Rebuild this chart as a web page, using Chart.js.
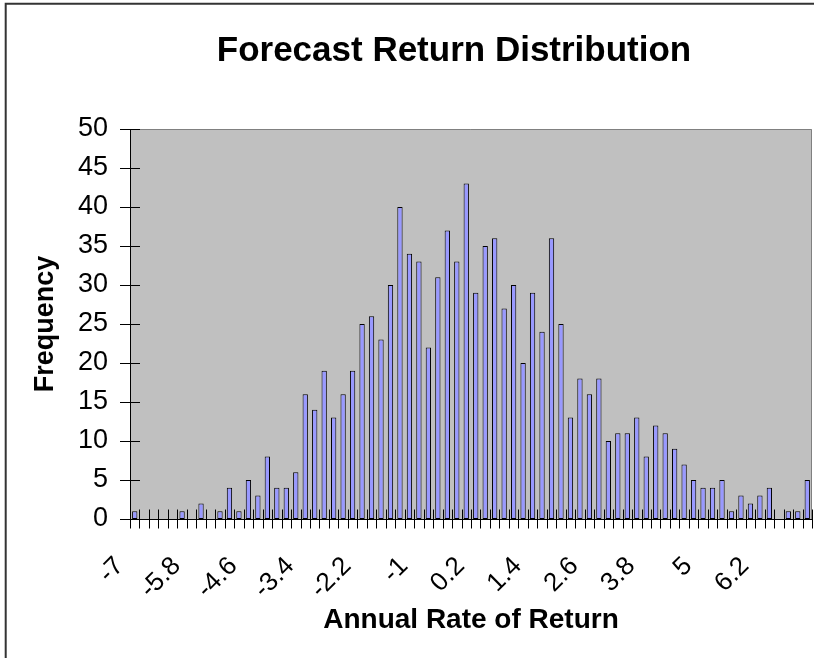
<!DOCTYPE html>
<html><head><meta charset="utf-8">
<script src="https://cdn.jsdelivr.net/npm/chart.js@4/dist/chart.umd.min.js"></script>
<style>html,body{margin:0;padding:0;background:#fff;}canvas{display:block;}</style>
</head><body>
<canvas id="c" width="814" height="658"></canvas>
<script>
const categories = ["-7","-6.8","-6.6","-6.4","-6.2","-6","-5.8","-5.6","-5.4","-5.2","-5","-4.8","-4.6","-4.4","-4.2","-4","-3.8","-3.6","-3.4","-3.2","-3","-2.8","-2.6","-2.4","-2.2","-2","-1.8","-1.6","-1.4","-1.2","-1","-0.8","-0.6","-0.4","-0.2","0","0.2","0.4","0.6","0.8","1","1.2","1.4","1.6","1.8","2","2.2","2.4","2.6","2.8","3","3.2","3.4","3.6","3.8","4","4.2","4.4","4.6","4.8","5","5.2","5.4","5.6","5.8","6","6.2","6.4","6.6","6.8","7","7.2"];
const frequencies = [1,0,0,0,0,1,0,2,0,1,4,1,5,3,8,4,4,6,16,14,19,13,16,19,25,26,23,30,40,34,33,22,31,37,33,43,29,35,36,27,30,20,29,24,36,25,13,18,16,18,10,11,11,13,8,12,11,9,7,5,4,4,5,1,3,2,3,4,0,1,1,5];
const tickLabels = ["-7","-5.8","-4.6","-3.4","-2.2","-1","0.2","1.4","2.6","3.8","5","6.2"];
const yTickValues = [0,5,10,15,20,25,30,35,40,45,50];

const titleText = "Forecast Return Distribution";
const xTitleText = "Annual Rate of Return";
const yTitleText = "Frequency";
const FONT = "'Liberation Sans', Arial, Helvetica, sans-serif";

const backdrop = {
  id: 'backdrop',
  beforeDraw(chart) {
    const {ctx, chartArea: a} = chart;
    ctx.save();
    ctx.fillStyle = '#ffffff';
    ctx.fillRect(0, 0, chart.width, chart.height);
    ctx.strokeStyle = '#333333';
    ctx.lineWidth = 2;
    ctx.beginPath();
    ctx.moveTo(5.7, chart.height + 2);
    ctx.lineTo(5.7, 3.7);
    ctx.lineTo(chart.width + 2, 3.7);
    ctx.stroke();
    ctx.fillStyle = '#c0c0c0';
    ctx.fillRect(a.left, a.top, a.right - a.left, a.bottom - a.top);
    ctx.strokeStyle = '#808080';
    ctx.lineWidth = 1;
    ctx.beginPath();
    ctx.moveTo(a.left, a.top + 0.5);
    ctx.lineTo(a.right - 0.5, a.top + 0.5);
    ctx.lineTo(a.right - 0.5, a.bottom);
    ctx.stroke();
    ctx.restore();
  }
};

const titleShift = {
  id: 'titleShift',
  afterLayout(chart) {
    const t = chart.titleBlock;
    if (t) { t.left = 2 * 454 - t.right; }
  }
};

const crossTicks = {
  id: 'crossTicks',
  afterDatasetsDraw(chart) {
    const {ctx} = chart;
    const xs = chart.scales.x, ys = chart.scales.y;
    ctx.save();
    ctx.strokeStyle = '#000';
    ctx.lineWidth = 1;
    ctx.beginPath();
    ys.ticks.forEach(t => {
      const py = Math.round(ys.getPixelForValue(t.value)) + 0.5;
      ctx.moveTo(xs.left - 10, py);
      ctx.lineTo(xs.left + 10, py);
    });
    for (let i = 0; i <= categories.length; i++) {
      const px = Math.round(xs.getPixelForValue(i - 0.5)) + 0.5;
      ctx.moveTo(px, ys.bottom - 9.5);
      ctx.lineTo(px, ys.bottom + 9.5);
    }
    ctx.stroke();
    ctx.restore();
  }
};

new Chart(document.getElementById('c'), {
  type: 'bar',
  data: {
    labels: categories,
    datasets: [{
      label: yTitleText,
      data: frequencies,
      backgroundColor: '#9999ff',
      borderColor: '#000000',
      borderWidth: 1,
      borderSkipped: false,
      barPercentage: 0.56,
      categoryPercentage: 1
    }]
  },
  options: {
    responsive: false,
    animation: false,
    layout: { padding: { left: 0, top: 0, right: 2, bottom: 0 } },
    plugins: {
      legend: { display: false },
      tooltip: { enabled: false },
      title: {
        display: true,
        text: titleText,
        color: '#000',
        font: { family: FONT, size: 35, weight: 'bold', lineHeight: 1.2 },
        padding: { top: 30, bottom: 57 }
      }
    },
    scales: {
      x: {
        type: 'category',
        offset: true,
        grid: { display: false, offset: true, drawTicks: false },
        border: { display: true, color: '#000', width: 1 },
        ticks: {
          autoSkip: false,
          minRotation: 45,
          maxRotation: 45,
          labelOffset: -15,
          padding: 32,
          color: '#000',
          font: { family: FONT, size: 26 },
          callback(v) {
            const l = this.getLabelForValue(v);
            return tickLabels.includes(l) ? l : '';
          }
        },
        title: {
          display: true,
          text: xTitleText,
          color: '#000',
          font: { family: FONT, size: 28, weight: 'bold', lineHeight: 1.2 },
          padding: { top: 0, bottom: 21 }
        },
        afterFit(s) { s.height = 139; s.paddingLeft = 0; s.paddingRight = 0; }
      },
      y: {
        min: 0,
        max: 50,
        afterBuildTicks(s) { s.ticks = yTickValues.map(v => ({ value: v })); },
        grid: { display: false, drawTicks: false },
        border: { display: true, color: '#000', width: 1 },
        ticks: {
          color: '#000',
          padding: 22,
          font: { family: FONT, size: 27 }
        },
        title: {
          display: true,
          text: yTitleText,
          color: '#000',
          font: { family: FONT, size: 27, weight: 'bold', lineHeight: 1.2 },
          padding: { top: 29, bottom: 0 }
        },
        afterFit(s) { s.width = 130; s.paddingTop = 0; s.paddingBottom = 0; }
      }
    }
  },
  plugins: [backdrop, titleShift, crossTicks]
});
</script>
</body></html>
